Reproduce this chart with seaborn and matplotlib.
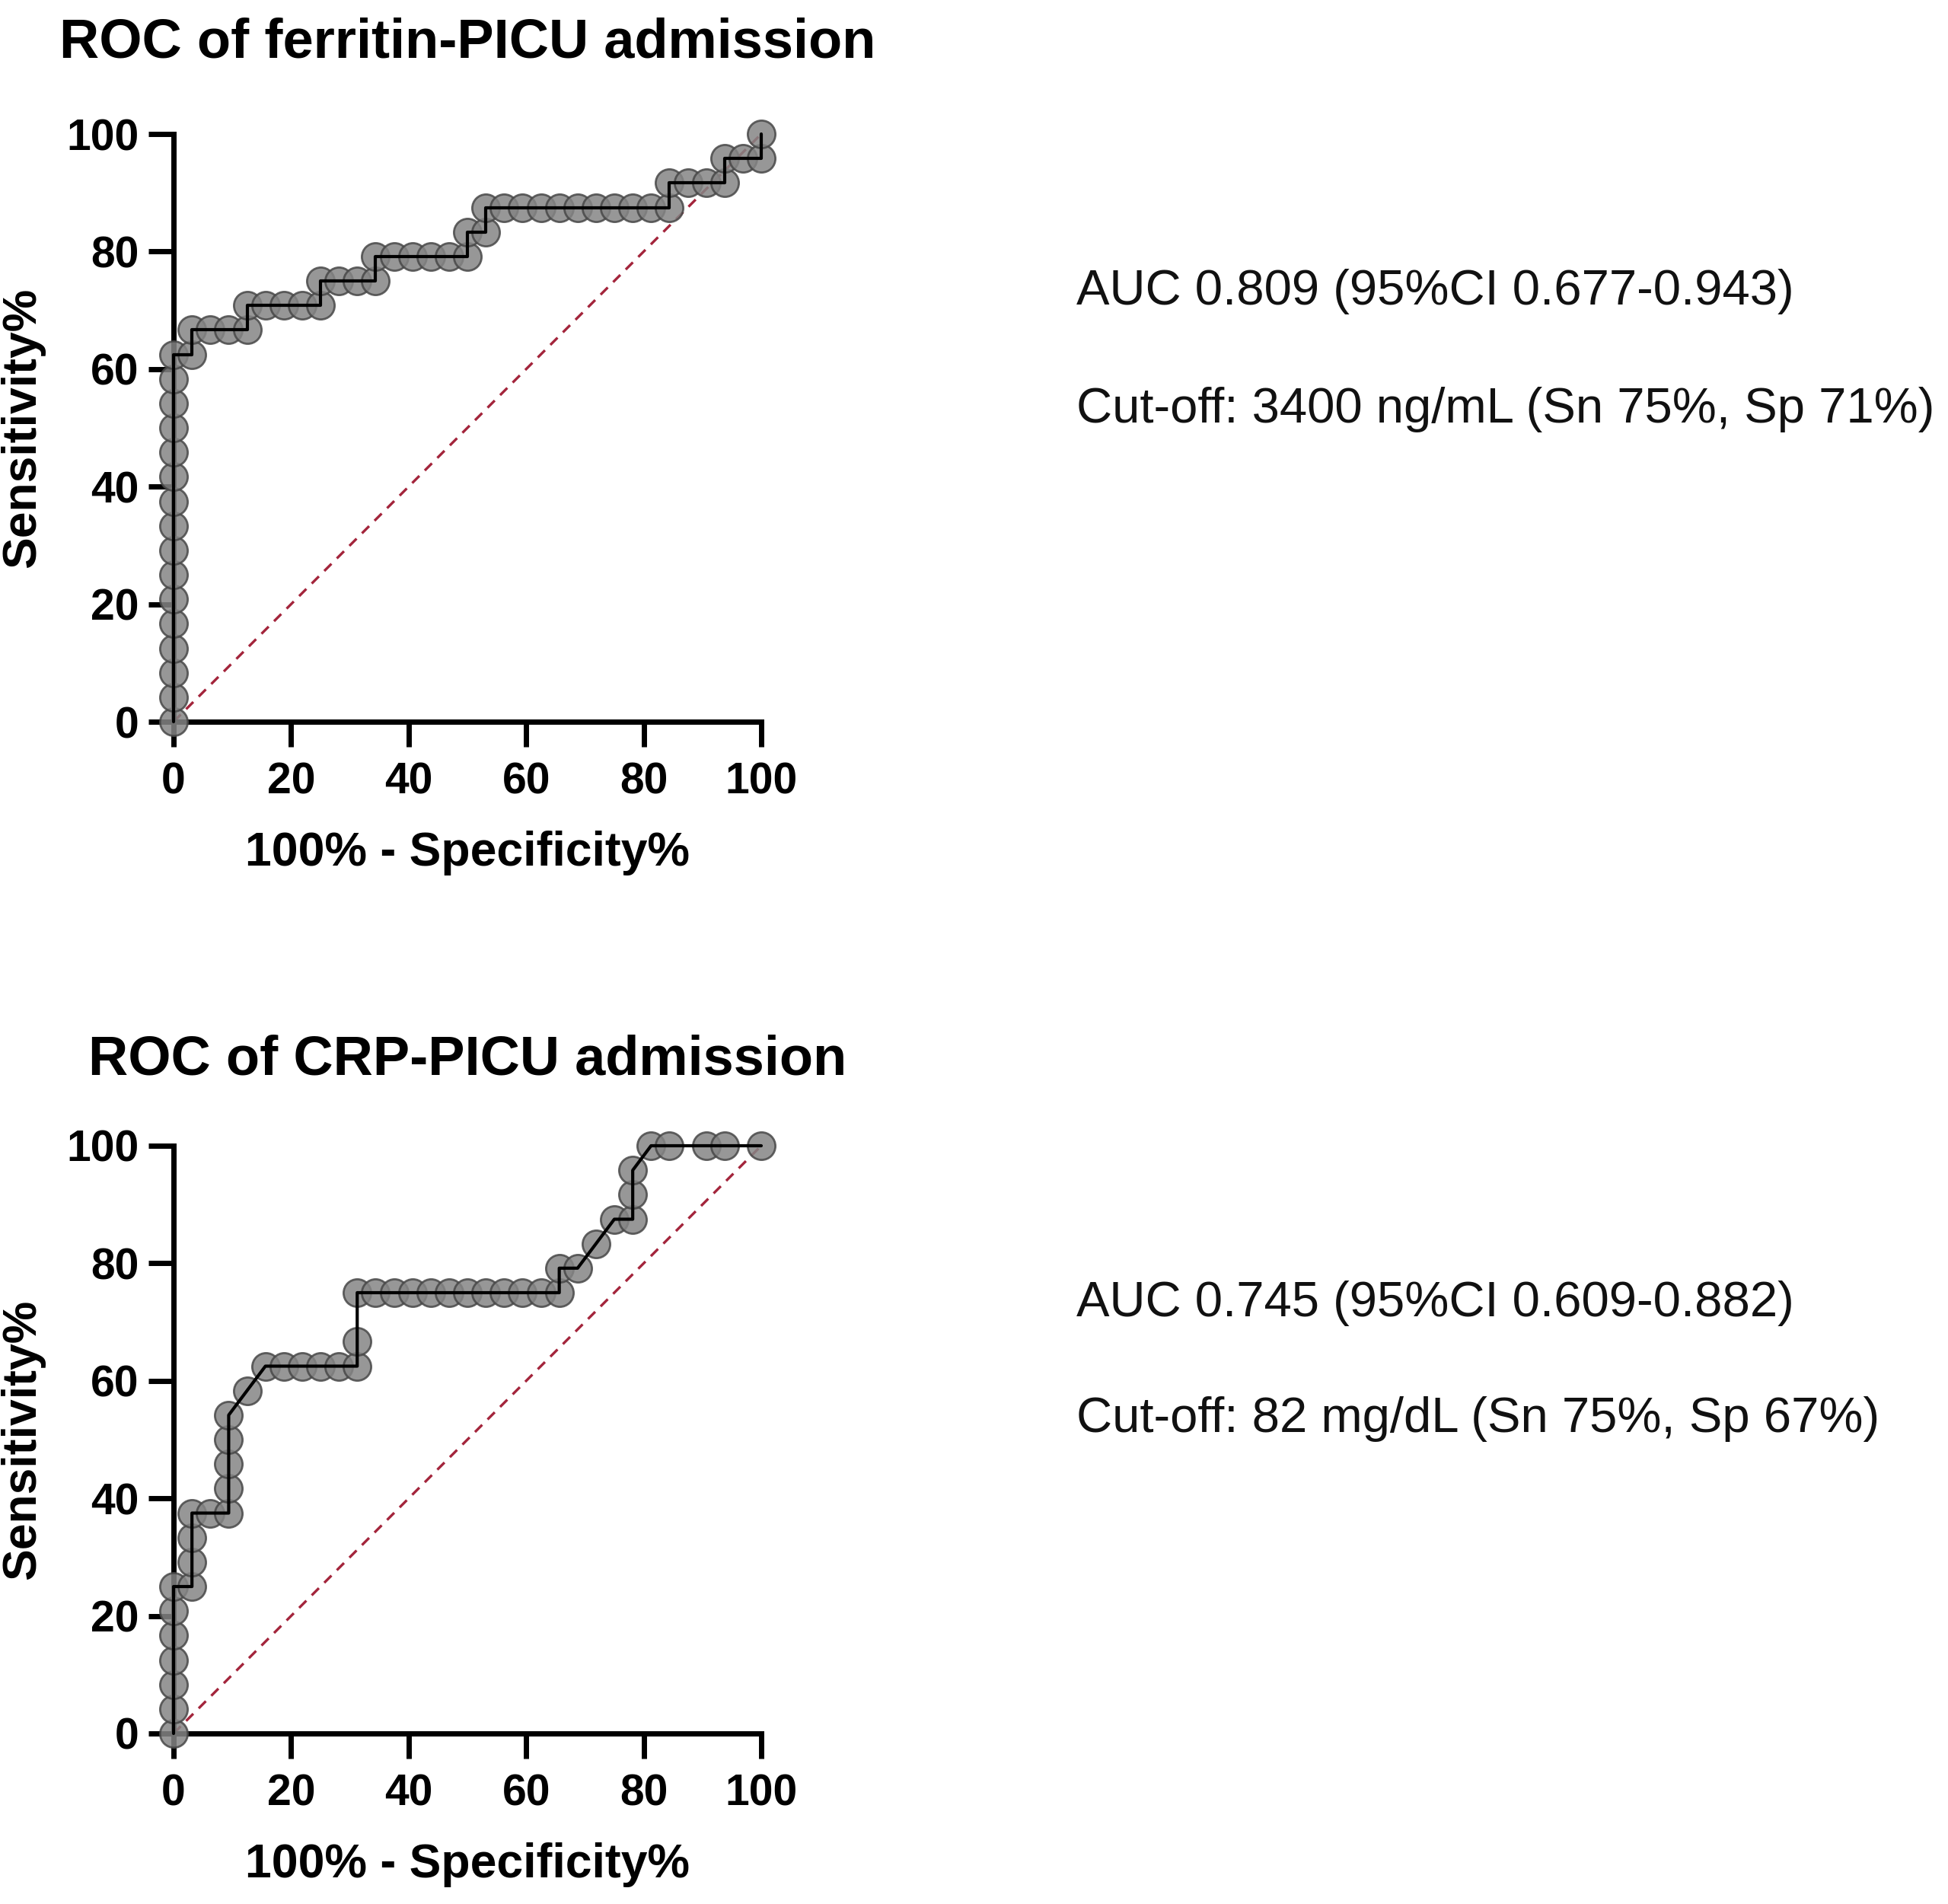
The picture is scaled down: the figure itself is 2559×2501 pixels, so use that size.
import matplotlib
matplotlib.use("Agg")
import matplotlib.pyplot as plt
import seaborn as sns
import pandas as pd

# ROC points (100% - specificity %, sensitivity %)
ferritin_fpr = [0, 0, 0, 0, 0, 0, 0, 0, 0, 0, 0, 0, 0, 0, 0, 0,
                3.13, 3.13, 6.25, 9.38, 12.5, 12.5, 15.63, 18.75, 21.88, 25.0,
                25.0, 28.13, 31.25, 34.38, 34.38, 37.5, 40.63, 43.75, 46.88, 50.0,
                50.0, 53.13, 53.13, 56.25, 59.38, 62.5, 65.63, 68.75, 71.88, 75.0,
                78.13, 81.25, 84.38, 84.38, 87.5, 90.63, 93.75, 93.75, 96.88, 100, 100]
ferritin_tpr = [0, 4.17, 8.33, 12.5, 16.67, 20.83, 25, 29.17, 33.33, 37.5, 41.67,
                45.83, 50, 54.17, 58.33, 62.5,
                62.5, 66.67, 66.67, 66.67, 66.67, 70.83, 70.83, 70.83, 70.83, 70.83,
                75, 75, 75, 75, 79.17, 79.17, 79.17, 79.17, 79.17, 79.17,
                83.33, 83.33, 87.5, 87.5, 87.5, 87.5, 87.5, 87.5, 87.5, 87.5,
                87.5, 87.5, 87.5, 91.67, 91.67, 91.67, 91.67, 95.83, 95.83, 95.83, 100]

crp_fpr = [0, 0, 0, 0, 0, 0, 0,
           3.13, 3.13, 3.13, 3.13, 6.25, 9.38, 9.38, 9.38, 9.38, 9.38,
           12.5, 15.63, 18.75, 21.88, 25.0, 28.13, 31.25, 31.25, 31.25,
           34.38, 37.5, 40.63, 43.75, 46.88, 50.0, 53.13, 56.25, 59.38, 62.5, 65.63,
           65.63, 68.75, 71.88, 75.0, 78.13, 78.13, 78.13,
           81.25, 84.38, 90.63, 93.75, 100]
crp_tpr = [0, 4.17, 8.33, 12.5, 16.67, 20.83, 25,
           25, 29.17, 33.33, 37.5, 37.5, 37.5, 41.67, 45.83, 50, 54.17,
           58.33, 62.5, 62.5, 62.5, 62.5, 62.5, 62.5, 66.67, 75,
           75, 75, 75, 75, 75, 75, 75, 75, 75, 75, 75,
           79.17, 79.17, 83.33, 87.5, 87.5, 91.67, 95.83,
           100, 100, 100, 100, 100]

ticks = [0, 20, 40, 60, 80, 100]
titles = ["ROC of ferritin-PICU admission", "ROC of CRP-PICU admission"]
auc_texts = ["AUC 0.809 (95%CI 0.677-0.943)", "AUC 0.745 (95%CI 0.609-0.882)"]
cutoff_texts = ["Cut-off: 3400 ng/mL (Sn 75%, Sp 71%)",
                "Cut-off: 82 mg/dL (Sn 75%, Sp 67%)"]

sns.set_style("white")
plt.rcParams["font.family"] = ["Liberation Sans", "DejaVu Sans"]
plt.rcParams["text.color"] = "black"
plt.rcParams["axes.labelcolor"] = "black"
plt.rcParams["xtick.color"] = "black"
plt.rcParams["ytick.color"] = "black"

W, H = 2559, 2501
fig = plt.figure(figsize=(W / 100, H / 100), dpi=100)


def fx(px):
    return px / W


def fy(py):
    return 1 - py / H


panels = [
    (ferritin_fpr, ferritin_tpr, 948, 75, 400, 555),
    (crp_fpr, crp_tpr, 2277, 1411, 1729, 1881),
]

for i, (fpr, tpr, y0px, title_y, auc_y, cut_y) in enumerate(panels):
    ax = fig.add_axes([fx(228), fy(y0px), 772 / W, 772 / H])
    df = pd.DataFrame({"fpr": fpr, "tpr": tpr})

    # reference diagonal
    ax.plot([0, 100], [0, 100], color="#a3243b", lw=2.4, ls=(0, (4, 3)),
            zorder=2, clip_on=False)
    sns.scatterplot(data=df, x="fpr", y="tpr", ax=ax, s=680, color="#858585",
                    edgecolor="#484848", linewidth=2, alpha=0.85,
                    zorder=3, clip_on=False, legend=False)
    sns.lineplot(data=df, x="fpr", y="tpr", ax=ax, sort=False, estimator=None,
                 color="black", lw=3, zorder=4, clip_on=False)

    ax.set_xlim(0, 100)
    ax.set_ylim(0, 100)
    ax.set_xticks(ticks)
    ax.set_yticks(ticks)
    ax.tick_params(bottom=True, left=True, length=24, width=5, labelsize=41,
                   color="black", labelcolor="black")
    ax.tick_params(axis="x", pad=14)
    ax.tick_params(axis="y", pad=9)
    for lbl in ax.get_xticklabels() + ax.get_yticklabels():
        lbl.set_fontweight("bold")
    for side in ["top", "right"]:
        ax.spines[side].set_visible(False)
    for side in ["left", "bottom"]:
        ax.spines[side].set_linewidth(5)
        ax.spines[side].set_color("black")

    ax.set_xlabel("100% - Specificity%", fontsize=45, fontweight="bold",
                  va="baseline")
    ax.xaxis.set_label_coords(0.5, -(1137 - 948) / 772)
    ax.set_ylabel("Sensitivity%", fontsize=45, fontweight="bold", va="center")
    ax.yaxis.set_label_coords(-(228 - 30) / 772, 0.5)

    fig.text(fx(614), fy(title_y), titles[i], fontsize=52, fontweight="bold",
             ha="center", va="baseline")
    fig.text(fx(1414), fy(auc_y), auc_texts[i], fontsize=47, color="#111111",
             ha="left", va="baseline")
    fig.text(fx(1414), fy(cut_y), cutoff_texts[i], fontsize=47, color="#111111",
             ha="left", va="baseline")

fig.savefig("out.png", dpi=100)
